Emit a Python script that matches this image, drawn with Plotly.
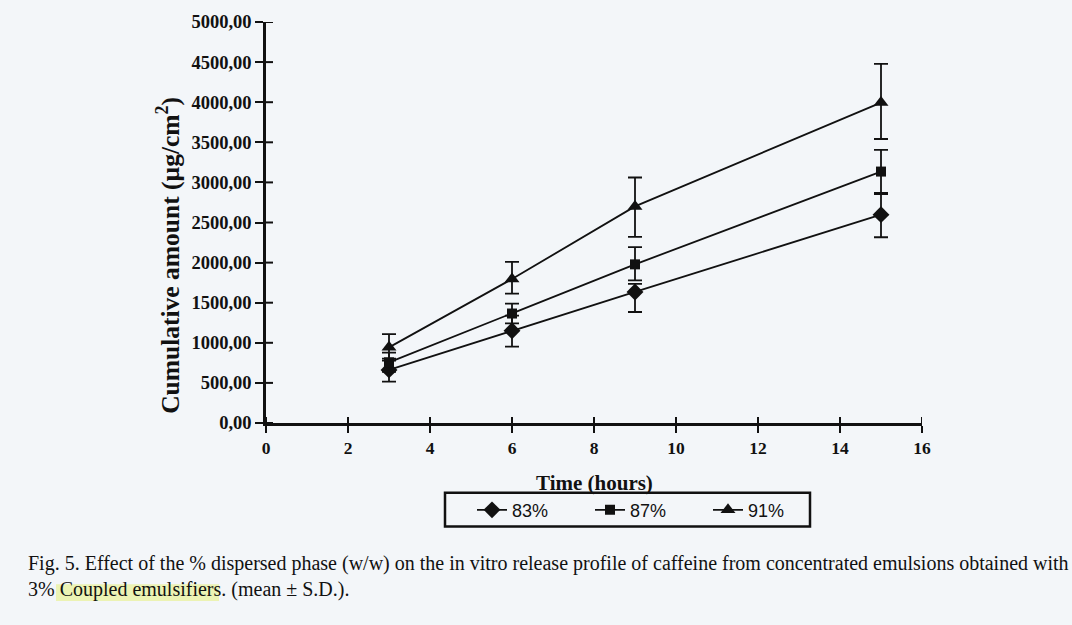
import plotly.graph_objects as go

# ---------------- data ----------------
time_h = [3, 6, 9, 15]

s83 = [662, 1150, 1634, 2598]
s83_plus = [140, 190, 100, 270]
s83_minus = [145, 198, 250, 282]

s87 = [757, 1365, 1978, 3135]
s87_plus = [120, 124, 214, 270]
s87_minus = [120, 124, 200, 280]

s91 = [943, 1795, 2701, 3995]
s91_plus = [166, 215, 360, 484]
s91_minus = [166, 182, 381, 454]

series_names = ["83%", "87%", "91%"]

x_ticks = [0, 2, 4, 6, 8, 10, 12, 14, 16]
y_ticks = [0, 500, 1000, 1500, 2000, 2500, 3000, 3500, 4000, 4500, 5000]
y_ticklabels = ["0,00", "500,00", "1000,00", "1500,00", "2000,00", "2500,00",
                "3000,00", "3500,00", "4000,00", "4500,00", "5000,00"]

x_title = "Time (hours)"
y_title = "Cumulative amount (µg/cm<sup>2</sup>)"
caption_1 = ("Fig. 5. Effect of the % dispersed phase (w/w) on the in vitro release "
             "profile of caffeine from concentrated emulsions obtained with")
caption_2 = "3% Coupled emulsifiers. (mean ± S.D.)."

# ---------------- styling ----------------
BG = "#f3f6f9"
INK = "#111111"
SERIF = "Liberation Serif, Times New Roman, serif"

L, R, T, B = 266, 150, 20, 202
W, H = 1072, 625
PW, PH = W - L - R, H - T - B


def px(xp):
    return (xp - L) / PW


def py(yp):
    return (H - B - yp) / PH


fig = go.Figure()

specs = [
    (s83, s83_plus, s83_minus, "diamond", 13),
    (s87, s87_plus, s87_minus, "square", 10),
    (s91, s91_plus, s91_minus, "triangle-up", 13),
]
for name, (vals, ep, em, sym, sz) in zip(series_names, specs):
    fig.add_trace(go.Scatter(
        x=time_h, y=vals, name=name, mode="lines+markers",
        line=dict(color=INK, width=1.8),
        marker=dict(symbol=sym, size=sz, color=INK),
        error_y=dict(type="data", symmetric=False, array=ep, arrayminus=em,
                     color=INK, thickness=1.8, width=7),
    ))

axis_common = dict(showgrid=False, zeroline=False)

fig.update_layout(
    width=W, height=H,
    paper_bgcolor=BG, plot_bgcolor=BG,
    margin=dict(l=L, r=R, t=T, b=B),
    xaxis=dict(range=[0, 16], tickvals=x_ticks, ticks="outside", ticklen=7,
               tickwidth=2, tickcolor=INK, showline=True, linewidth=2.5,
               linecolor=INK,
               tickfont=dict(family=SERIF, size=17.5, color=INK, weight="bold"),
               **axis_common),
    yaxis=dict(range=[0, 5000], tickvals=y_ticks, ticktext=y_ticklabels,
               ticks="outside", ticklen=8, tickwidth=2, tickcolor=INK,
               showline=True, linewidth=2.5, linecolor=INK,
               tickfont=dict(family=SERIF, size=18.5, color=INK, weight="bold"),
               **axis_common),
    legend=dict(orientation="h", x=px(472), y=py(492), xanchor="left",
                yanchor="top", bgcolor="rgba(0,0,0,0)", borderwidth=0,
                font=dict(family="Liberation Sans, Arial, sans-serif",
                          size=18, color=INK),
                entrywidth=73, itemsizing="trace"),
    showlegend=True,
)

# inside halves of the crossing tick marks (taken from the tick lists)
for xv in x_ticks:
    fig.add_shape(type="line", xref="x", yref="y", x0=xv, x1=xv,
                  ysizemode="pixel", yanchor=0, y0=0, y1=6,
                  line=dict(color=INK, width=2))
for yv in y_ticks:
    fig.add_shape(type="line", xref="x", yref="y", y0=yv, y1=yv,
                  xsizemode="pixel", xanchor=0, x0=0, x1=7,
                  line=dict(color=INK, width=2))

annotations = [
    dict(text=x_title, xref="paper", yref="paper", x=px(594), y=py(483),
         xanchor="center", yanchor="middle", showarrow=False,
         font=dict(family=SERIF, size=21, color=INK, weight="bold")),
    dict(text=y_title, xref="paper", yref="paper", x=px(169), y=py(255),
         xanchor="center", yanchor="middle", showarrow=False, textangle=-90,
         font=dict(family=SERIF, size=25.5, color=INK, weight="bold")),
    dict(text=caption_1, xref="paper", yref="paper",
         x=px(26), y=py(564), xanchor="left",
         yanchor="middle", showarrow=False,
         font=dict(family=SERIF, size=20, color=INK)),
    dict(text=caption_2, xref="paper", yref="paper",
         x=px(26), y=py(590), xanchor="left",
         yanchor="middle", showarrow=False,
         font=dict(family=SERIF, size=20, color=INK)),
]
fig.update_layout(annotations=annotations)

# legend frame
fig.add_shape(type="rect", xref="paper", yref="paper",
              x0=px(445), x1=px(810), y0=py(527), y1=py(493),
              line=dict(color=INK, width=2.5), fillcolor="rgba(0,0,0,0)")

# yellow marker highlight on "Coupled emulsifiers"
fig.add_shape(type="rect", xref="paper", yref="paper", layer="below",
              x0=px(56), x1=px(219), y0=py(602), y1=py(585),
              fillcolor="#e6f070", opacity=0.5, line=dict(width=0))

fig.write_html("out.html",
               config={"displayModeBar": False},
               post_script="document.body.style.margin='0';"
                           "document.body.style.background='" + BG + "';")
